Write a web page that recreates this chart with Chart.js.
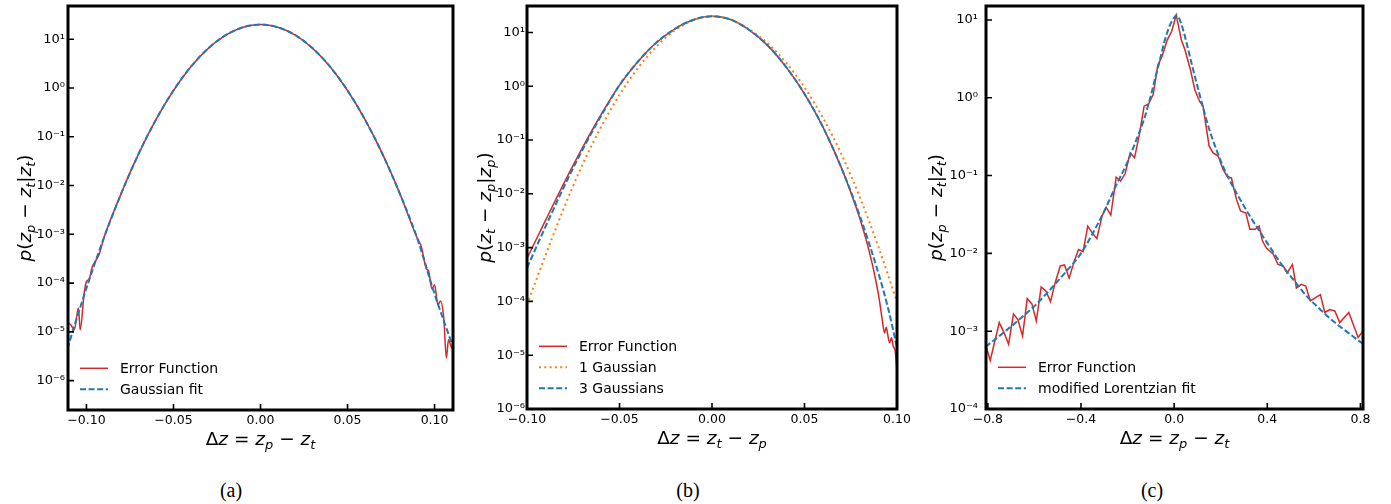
<!DOCTYPE html>
<html>
<head>
<meta charset="utf-8">
<script src="https://cdn.jsdelivr.net/npm/chart.js@4.4.1/dist/chart.umd.min.js"></script>
<style>
  html, body { margin: 0; padding: 0; background: #fff; width: 1391px; height: 504px; overflow: hidden; }
  body { position: relative; }
  canvas { position: absolute; top: 0; }
  .cap { position: absolute; top: 479px; line-height: 20px; font: 20px "Liberation Serif", serif; color: #000; transform: translateX(-50%); }
</style>
</head>
<body>
<canvas id="pa" width="465" height="460" style="left:0px"></canvas>
<canvas id="pb" width="460" height="460" style="left:465px"></canvas>
<canvas id="pc" width="466" height="460" style="left:925px"></canvas>
<div class="cap" style="left:231px">(a)</div>
<div class="cap" style="left:688px">(b)</div>
<div class="cap" style="left:1152px">(c)</div>
<script>
const FONT = '"DejaVu Sans", sans-serif';
const red = '#d62728', blue = '#1f77b4', orange = '#ff7f0e';

// ---- panel (a): error function vs gaussian fit
const aFitX = [-0.111, -0.10, -0.09, -0.08, -0.07, -0.06, -0.05, -0.04, -0.03, -0.02, -0.01, 0.0,
  0.01, 0.02, 0.03, 0.04, 0.05, 0.06, 0.07, 0.08, 0.09, 0.10, 0.111];
const aFitY = [4.5e-6, 7.9e-5, 8.4e-4, 6.9e-3, 0.045, 0.227, 0.89, 2.73, 6.5, 12.1, 17.6, 20.0,
  17.6, 12.1, 6.5, 2.73, 0.89, 0.227, 0.045, 6.9e-3, 8.4e-4, 6.0e-5, 4.5e-6];
const aErrX = [-0.111, -0.109, -0.107, -0.1046, -0.1036, -0.1013, -0.10, -0.0985, -0.0966, -0.095, -0.0928,
  -0.09, -0.08, -0.07, -0.06, -0.05, -0.04, -0.03, -0.02, -0.01, 0.0, 0.01, 0.02, 0.03, 0.04, 0.05, 0.06, 0.07, 0.08, 0.09,
  0.0924, 0.0952, 0.0966, 0.0985, 0.10, 0.1019, 0.1034, 0.1053, 0.1068, 0.108, 0.1095, 0.111];
const aErrY = [1.5e-5, 1.4e-5, 1.1e-5, 3.1e-5, 1.1e-5, 6.3e-5, 1.07e-4, 1.2e-4, 2.2e-4, 2.75e-4, 3.8e-4,
  8.4e-4, 6.9e-3, 0.045, 0.227, 0.89, 2.73, 6.5, 12.1, 17.6, 20.0, 17.6, 12.1, 6.5, 2.73, 0.89, 0.227, 0.045, 6.9e-3, 8.4e-4,
  5.6e-4, 2.0e-4, 1.74e-4, 7.6e-5, 9.3e-5, 3.6e-5, 4.3e-5, 1.9e-5, 2.9e-6, 6.9e-6, 5.0e-6, 4.0e-6];

// ---- panel (b): error function vs 1 and 3 gaussians
const bOneX = [-0.10, -0.09, -0.08, -0.07, -0.06, -0.05, -0.04, -0.03, -0.02, -0.01, 0.0,
  0.01, 0.02, 0.03, 0.04, 0.05, 0.06, 0.07, 0.08, 0.09, 0.10];
const bOneY = [8.7e-5, 7.2e-4, 5.5e-3, 0.035, 0.174, 0.69, 2.19, 5.5, 11.0, 17.0, 20.0,
  17.4, 11.5, 6.3, 2.75, 0.95, 0.257, 0.054, 8.5e-3, 1.02e-3, 9.8e-5];
const bThreeX = [-0.10, -0.09, -0.08, -0.07, -0.06, -0.05, -0.04, -0.03, -0.02, -0.01, 0.0,
  0.01, 0.02, 0.03, 0.04, 0.05, 0.06, 0.07, 0.08, 0.09, 0.095, 0.10];
const bThreeY = [4.2e-4, 2.45e-3, 0.0135, 0.066, 0.28, 1.05, 2.88, 6.5, 11.7, 17.2, 20.0,
  17.4, 11.2, 5.75, 2.29, 0.72, 0.174, 0.030, 3.8e-3, 3.3e-4, 7.9e-5, 1.4e-5];
const bErrX = [-0.10, -0.09, -0.08, -0.07, -0.06, -0.05, -0.04, -0.03, -0.02, -0.01, 0.0,
  0.01, 0.02, 0.03, 0.04, 0.05, 0.06, 0.07, 0.08,
  0.085, 0.0885, 0.0905, 0.092, 0.0933, 0.0942, 0.095, 0.096, 0.097, 0.098, 0.099, 0.10];
const bErrY = [6.3e-4, 3.2e-3, 0.0158, 0.072, 0.295, 1.05, 2.88, 6.5, 11.7, 17.2, 20.0,
  17.4, 11.2, 5.75, 2.29, 0.72, 0.174, 0.030, 3.4e-3,
  8.5e-4, 2.5e-4, 1.05e-4, 4.6e-5, 2.6e-5, 3.3e-5, 2.4e-5, 1.7e-5, 2.1e-5, 1.45e-5, 1.2e-5, 5.0e-6];

// ---- panel (c): error function vs modified lorentzian fit
const cFitX = [-0.81, -0.75, -0.70, -0.65, -0.60, -0.55, -0.50, -0.45, -0.40, -0.35, -0.30, -0.25, -0.20,
  -0.16, -0.13, -0.10, -0.08, -0.06, -0.04, -0.02, 0.00, 0.01, 0.02, 0.04, 0.06, 0.08, 0.10, 0.12, 0.15,
  0.18, 0.22, 0.27, 0.32, 0.37, 0.42, 0.47, 0.52, 0.57, 0.62, 0.67, 0.72, 0.77, 0.81];
const cFitY = [6.3e-4, 8.7e-4, 1.15e-3, 1.55e-3, 2.1e-3, 3.0e-3, 4.4e-3, 6.5e-3, 0.010, 0.018, 0.035, 0.074, 0.15,
  0.30, 0.52, 1.07, 1.86, 3.16, 5.5, 8.3, 10.7, 11.5, 10.7, 7.2, 4.2, 2.4, 1.41, 0.83, 0.40,
  0.22, 0.112, 0.058, 0.032, 0.0186, 0.011, 6.6e-3, 4.3e-3, 2.8e-3, 2.0e-3, 1.45e-3, 1.1e-3, 8.5e-4, 6.9e-4];
const cErrX = [-0.81, -0.79, -0.751, -0.73, -0.711, -0.69, -0.671, -0.651, -0.631, -0.611, -0.592, -0.571,
  -0.551, -0.531, -0.511, -0.489, -0.471, -0.451, -0.431, -0.411, -0.391, -0.371, -0.351, -0.332, -0.31,
  -0.292, -0.272, -0.249, -0.23, -0.21, -0.189, -0.17, -0.149, -0.129, -0.11, -0.09, -0.07, -0.052, -0.03,
  -0.011, 0.009, 0.031, 0.046, 0.07, 0.089, 0.11, 0.124, 0.15, 0.167, 0.189, 0.21, 0.227, 0.246, 0.268,
  0.285, 0.308, 0.325, 0.348, 0.365, 0.379, 0.396, 0.425, 0.446, 0.468, 0.485, 0.508, 0.525, 0.546, 0.565,
  0.585, 0.607, 0.628, 0.647, 0.668, 0.69, 0.711, 0.75, 0.79, 0.81];
const cErrY = [6.8e-4, 4.2e-4, 1.29e-3, 9.5e-4, 6.8e-4, 1.66e-3, 1.41e-3, 8.7e-4, 2.63e-3, 2.24e-3, 1.35e-3, 3.7e-3,
  3.3e-3, 2.4e-3, 4.2e-3, 6.9e-3, 7.1e-3, 4.8e-3, 7.6e-3, 0.0112, 0.0105, 0.0224, 0.0182, 0.0155, 0.030,
  0.039, 0.031, 0.095, 0.085, 0.107, 0.195, 0.17, 0.34, 0.78, 0.83, 1.10, 2.63, 3.39, 5.5,
  7.1, 11.5, 5.5, 4.17, 2.29, 1.26, 0.89, 0.78, 0.24, 0.195, 0.178, 0.12, 0.098, 0.093, 0.049,
  0.035, 0.033, 0.0204, 0.0204, 0.0224, 0.0145, 0.0117, 9.8e-3, 7.2e-3, 6.9e-3, 5.6e-3, 7.2e-3, 3.6e-3, 4.0e-3, 3.8e-3,
  2.45e-3, 2.7e-3, 2.95e-3, 1.74e-3, 1.9e-3, 1.82e-3, 1.29e-3, 1.74e-3, 8.3e-4, 1.0e-3];

// tick positions
const abTicks = [-0.10, -0.05, 0.0, 0.05, 0.10];
const cTicks = [-0.8, -0.4, 0.0, 0.4, 0.8];
const decades = [1e-7, 1e-6, 1e-5, 1e-4, 1e-3, 1e-2, 1e-1, 1, 10, 100];

const pts = (xs, ys) => xs.map((x, i) => ({ x: x, y: ys[i] }));
const SUP = { '-': '\u207B', '0': '\u2070', '1': '\u00B9', '2': '\u00B2', '3': '\u00B3', '4': '\u2074', '5': '\u2075', '6': '\u2076', '7': '\u2077', '8': '\u2078', '9': '\u2079' };
const powLabel = v => '10' + String(Math.round(Math.log10(v))).split('').map(c => SUP[c]).join('');

// small mathtext: letters italic, "_x" makes a subscript
function parseMath(s) {
  const runs = [];
  for (let i = 0; i < s.length; i++) {
    const c = s[i];
    if (c === '_') { runs.push({ t: s[i + 1], i: true, s: true }); i++; }
    else runs.push({ t: c, i: /[a-zA-Z]/.test(c), s: false });
  }
  return runs;
}
function drawMath(ctx, str, cx, cy, size, rotated) {
  const runs = parseMath(str);
  const fontOf = r => (r.i ? 'italic ' : '') + (r.s ? size * 0.7 : size) + 'px ' + FONT;
  ctx.save();
  ctx.translate(cx, cy);
  if (rotated) ctx.rotate(-Math.PI / 2);
  ctx.fillStyle = '#000';
  ctx.textAlign = 'left';
  ctx.textBaseline = 'alphabetic';
  let w = 0;
  runs.forEach(r => { ctx.font = fontOf(r); w += ctx.measureText(r.t).width; });
  let x = -w / 2;
  runs.forEach(r => {
    ctx.font = fontOf(r);
    ctx.fillText(r.t, x, r.s ? size * 0.22 : 0);
    x += ctx.measureText(r.t).width;
  });
  ctx.restore();
}

// frame, inward ticks, legend and axis titles
const panelDecor = {
  id: 'panelDecor',
  afterDatasetsDraw(chart, args, opts) {
    const { ctx, chartArea: ca, scales } = chart;
    ctx.save();
    ctx.strokeStyle = '#000';
    ctx.lineWidth = 1.6;
    ctx.beginPath();
    scales.x.ticks.forEach(t => {
      const p = scales.x.getPixelForValue(t.value);
      ctx.moveTo(p, ca.bottom); ctx.lineTo(p, ca.bottom - 6);
    });
    scales.y.ticks.forEach(t => {
      const p = scales.y.getPixelForValue(t.value);
      ctx.moveTo(ca.left, p); ctx.lineTo(ca.left + 6, p);
    });
    ctx.stroke();
    ctx.lineWidth = 3;
    ctx.strokeRect(ca.left, ca.top, ca.right - ca.left, ca.bottom - ca.top);

    const sets = chart.data.datasets;
    sets.forEach((ds, i) => {
      const y = ca.bottom - 20.7 - 21 * (sets.length - 1 - i);
      ctx.setLineDash(ds.borderDash || []);
      ctx.strokeStyle = ds.borderColor;
      ctx.lineWidth = ds.borderWidth;
      ctx.beginPath(); ctx.moveTo(ca.left + 12, y); ctx.lineTo(ca.left + 40, y); ctx.stroke();
      ctx.setLineDash([]);
      ctx.fillStyle = '#000';
      ctx.font = '14px ' + FONT;
      ctx.textAlign = 'left';
      ctx.textBaseline = 'alphabetic';
      ctx.fillText(ds.label, ca.left + 52, y + 5);
    });

    drawMath(ctx, opts.xTitle, (ca.left + ca.right) / 2, ca.bottom + 34.5, 18.5, false);
    drawMath(ctx, opts.yTitle, ca.left - opts.yTitleOff, (ca.top + ca.bottom) / 2, 18.5, true);
    ctx.restore();
  }
};

function makePanel(id, p) {
  const cv = document.getElementById(id);
  const W = cv.width, H = cv.height;
  return new Chart(cv, {
    type: 'line',
    data: { datasets: p.datasets },
    plugins: [panelDecor],
    options: {
      responsive: false,
      animation: false,
      devicePixelRatio: 1,
      layout: { padding: { left: 0, top: 6, right: W - p.right, bottom: 0 } },
      elements: { point: { radius: 0 }, line: { borderCapStyle: 'butt' } },
      plugins: {
        legend: { display: false },
        tooltip: { enabled: false },
        panelDecor: { xTitle: p.xTitle, yTitle: p.yTitle, yTitleOff: p.yTitleOff }
      },
      scales: {
        x: {
          type: 'linear', min: p.xMin, max: p.xMax,
          afterBuildTicks: s => { s.ticks = p.xTicks.map(v => ({ value: v })); },
          afterFit: s => { s.height = H - p.bottom; s.paddingLeft = 0; s.paddingRight = 0; },
          grid: { display: false, drawTicks: false },
          border: { display: false },
          ticks: {
            autoSkip: false, maxRotation: 0, padding: 3, color: '#000',
            font: { family: FONT, size: 12.5 },
            callback: v => v.toFixed(p.xDec).replace('-', '\u2212')
          }
        },
        y: {
          type: 'logarithmic', min: p.yMin, max: p.yMax,
          afterBuildTicks: s => {
            s.ticks = decades.filter(v => v >= p.yMin * 0.999 && v <= p.yMax).map(v => ({ value: v }));
          },
          afterFit: s => { s.width = p.left; s.paddingTop = 0; s.paddingBottom = 0; },
          grid: { display: false, drawTicks: false },
          border: { display: false },
          ticks: {
            autoSkip: false, padding: p.tickPad, color: '#000',
            font: { family: FONT, size: 13 },
            callback: v => powLabel(v)
          }
        }
      }
    }
  });
}

const errStyle = { borderColor: red, borderWidth: 1.5, cubicInterpolationMode: 'monotone', order: 2 };
const dashStyle = { borderColor: blue, borderWidth: 2, borderDash: [6, 2.6], cubicInterpolationMode: 'monotone', order: 0 };

makePanel('pa', {
  left: 68, right: 453, bottom: 410,
  xMin: -0.1106, xMax: 0.1106, yMin: 2.5e-7, yMax: 48,
  xTicks: abTicks, xDec: 2, tickPad: 3, yTitleOff: 37,
  xTitle: '\u0394z = z_p \u2212 z_t', yTitle: 'p(z_p \u2212 z_t|z_t)',
  datasets: [
    Object.assign({ label: 'Error Function', data: pts(aErrX, aErrY) }, errStyle),
    Object.assign({ label: 'Gaussian fit', data: pts(aFitX, aFitY) }, dashStyle)
  ]
});

makePanel('pb', {
  left: 62, right: 432, bottom: 409,
  xMin: -0.1, xMax: 0.1, yMin: 1e-6, yMax: 31,
  xTicks: abTicks, xDec: 2, tickPad: 2, yTitleOff: 36,
  xTitle: '\u0394z = z_t \u2212 z_p', yTitle: 'p(z_t \u2212 z_p|z_p)',
  datasets: [
    Object.assign({ label: 'Error Function', data: pts(bErrX, bErrY) }, errStyle),
    { label: '1 Gaussian', data: pts(bOneX, bOneY), borderColor: orange, borderWidth: 2, borderDash: [2, 3.3], cubicInterpolationMode: 'monotone', order: 1 },
    Object.assign({ label: '3 Gaussians', data: pts(bThreeX, bThreeY) }, dashStyle)
  ]
});

makePanel('pc', {
  left: 61, right: 438, bottom: 409,
  xMin: -0.808, xMax: 0.811, yMin: 1e-4, yMax: 15.1,
  xTicks: cTicks, xDec: 1, tickPad: 8, yTitleOff: 44,
  xTitle: '\u0394z = z_p \u2212 z_t', yTitle: 'p(z_p \u2212 z_t|z_t)',
  datasets: [
    { label: 'Error Function', data: pts(cErrX, cErrY), borderColor: red, borderWidth: 1.5, tension: 0, order: 2 },
    Object.assign({ label: 'modified Lorentzian fit', data: pts(cFitX, cFitY) }, dashStyle)
  ]
});
</script>
</body>
</html>
